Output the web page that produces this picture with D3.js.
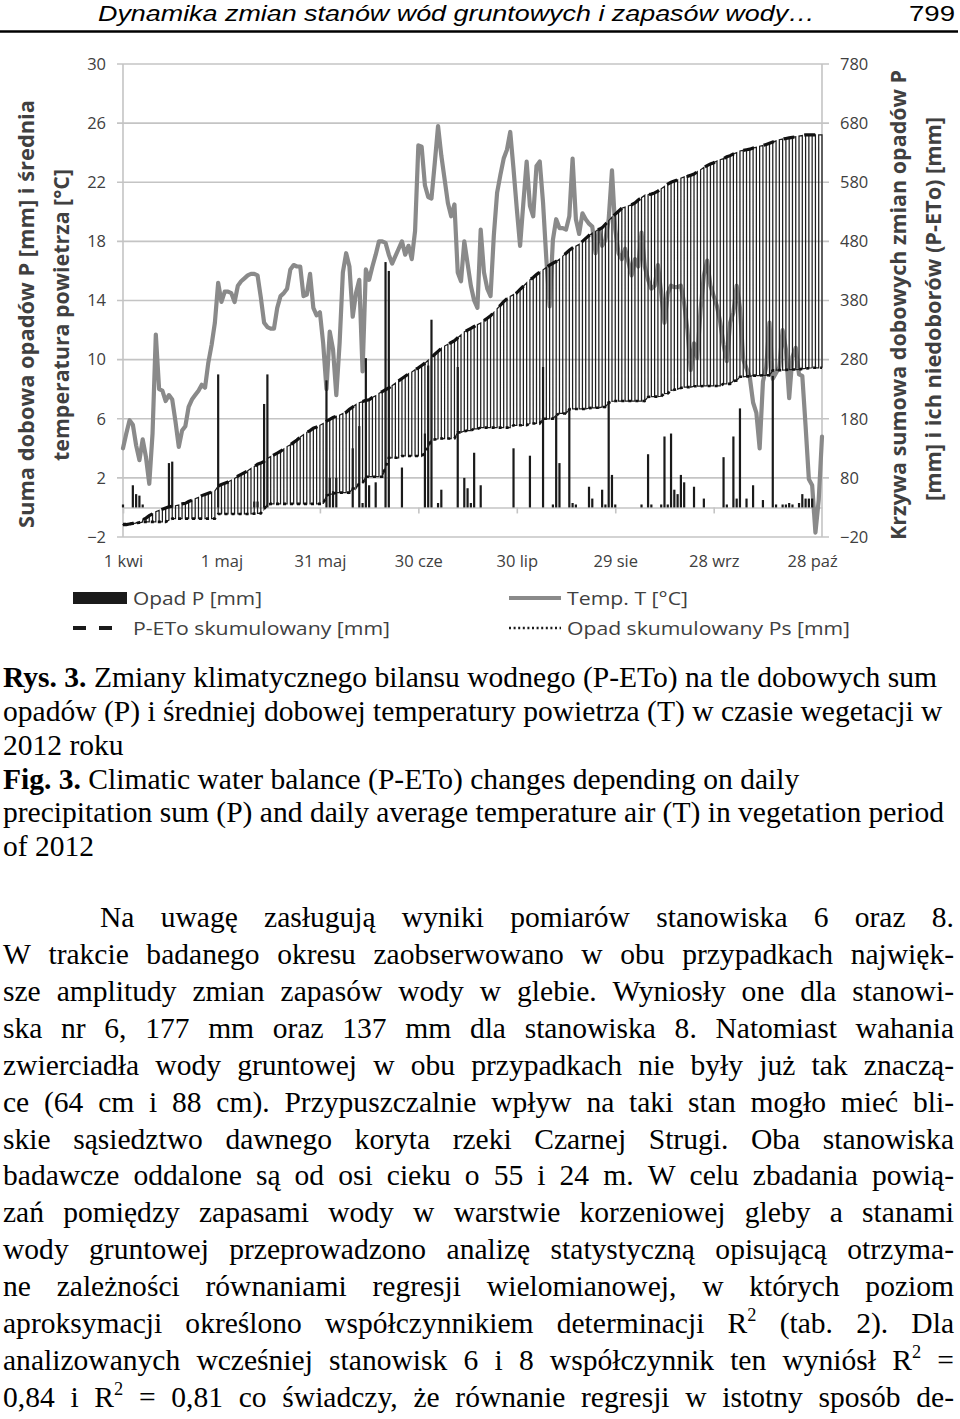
<!DOCTYPE html>
<html><head><meta charset="utf-8">
<script src="https://cdn.jsdelivr.net/npm/d3@7"></script>
<style>
body{margin:0;background:#fff;}
svg{display:block;}
</style></head><body>
<svg id="c" width="960" height="1419"></svg>
<script>
// ---------------- DATA ----------------
const startDate = "2012-04-01";
const tickDates = ["2012-04-01","2012-05-01","2012-05-31","2012-06-30","2012-07-30","2012-08-29","2012-09-28","2012-10-28"];
const tickLabels = ["1 kwi","1 maj","31 maj","30 cze","30 lip","29 sie","28 wrz","28 paź"];
const leftTicks = [-2,2,6,10,14,18,22,26,30];
const rightTicks = [-20,80,180,280,380,480,580,680,780];

// daily mean air temperature T [°C], 1 Apr - 31 Oct 2012
const temp = [
 4.0, 5.0, 5.9, 5.6, 4.2, 3.2, 4.6, 3.4, 1.6, 5.0,
 11.7, 8.0, 7.9, 7.2, 7.6, 7.3, 5.8, 4.1, 5.2, 5.5,
 6.8, 7.3, 7.6, 7.9, 8.3, 8.1, 9.8, 11.0, 12.5, 15.2,
 13.9, 14.6, 14.6, 14.5, 13.9, 15.0, 15.3, 15.5, 15.7, 15.8,
 15.8, 15.7, 14.2, 12.5, 12.2, 12.1, 12.1, 13.5, 14.3, 14.5,
 14.8, 16.1, 16.4, 16.3, 16.3, 14.3, 14.4, 15.8, 13.5, 13.0,
 13.2, 11.1, 8.0, 11.9, 10.7, 7.6, 11.1, 15.9, 17.2, 16.3,
 12.9, 14.5, 15.4, 9.2, 16.1, 15.4, 16.3, 17.1, 18.0, 18.0,
 17.9, 17.1, 16.5, 17.0, 17.5, 18.0, 17.1, 17.7, 16.8, 18.7,
 24.5, 24.4, 21.8, 21.0, 20.9, 23.3, 25.8, 23.8, 22.2, 20.6,
 19.7, 20.5, 15.9, 15.3, 18.0, 16.5, 15.0, 14.0, 13.5, 18.8,
 15.9, 14.8, 14.3, 18.4, 21.3, 22.5, 23.6, 24.2, 25.4, 22.9,
 20.2, 17.7, 20.6, 23.4, 20.4, 19.7, 23.1, 23.4, 20.6, 16.8,
 13.6, 18.1, 19.5, 18.9, 18.9, 18.8, 19.7, 23.6, 19.5, 18.5,
 19.9, 19.5, 19.2, 19.0, 17.2, 18.8, 17.7, 18.1, 19.5, 22.8,
 18.8, 17.2, 16.8, 17.5, 16.6, 15.7, 16.8, 16.3, 18.6, 16.3,
 15.4, 14.8, 15.0, 16.4, 14.5, 12.5, 14.5, 15.0, 14.9, 14.9,
 15.0, 13.8, 12.0, 9.3, 11.1, 10.1, 13.4, 15.7, 16.7, 15.0,
 14.3, 13.6, 12.5, 11.0, 9.9, 12.5, 13.2, 15.0, 13.5, 10.0,
 9.4, 8.8, 7.1, 6.4, 4.0, 8.5, 9.5, 12.5, 8.7, 9.1,
 9.5, 12.0, 10.7, 7.4, 10.2, 10.8, 9.0, 8.9, 5.5, 1.9,
 1.5, -1.7, 0.5, 4.8
];

// daily precipitation P [mm]
const precip = [
 0.2,0,0,1.5,0.9,0.8,0.2,0,0,0,
 0,0,0,0,3.0,3.1,0,0,0,0,
 0,0,0,0,0,0,0,0,0,9.0,
 0,0,0,0,0,0,0,0,0,0,
 0.4,0.4,0,7.0,9.0,0,0,0,0,0,
 0,0,0,0,0,0,0,0,0,0,
 0,0,8.6,2.0,1.1,2.0,0,0,0,0,
 4.0,0,5.5,0.3,10.1,1.5,0,1.7,0,0,
 16.6,16.0,0,0,0,2.7,0,0,0,0,
 0,0,5.0,9.6,12.7,0,0.3,1.2,0,0,
 0,0,9.5,0,2.0,1.3,0.3,3.7,0,1.5,
 0,0,0,0,0,0,0,0,0,4.0,
 0,0,0,0,3.5,0,0,0,9.5,0,
 0,0.2,6.2,3.0,0,0,6.6,0.3,0.2,0,
 0,0,1.4,0.6,0,0,1.2,0.2,7.2,2.2,
 0.2,0,0,0,0,0,0,0,0.2,0,
 3.6,0.2,0,0,0.2,4.8,0.2,5.0,1.2,0.9,
 2.2,1.7,0,0,1.4,0,0,0.6,0,0,
 0,0,0,3.4,0.2,0,4.8,0.6,6.7,0,
 0.6,0,1.5,0,0,0.5,0,0,8.9,0.2,
 0,0.2,0.2,0.3,0.2,0,0.3,0.9,0.6,0.6,
 0.6,0,0,0
];

// upper cumulative curve (P-ETo) [mm], right axis
const cumUpper = [
 1,1,2,3,4,6,9,12,16,19,
 23,25,27,29,31,32,33,34,36,37,
 40,42,45,47,50,52,54,56,58,66,
 69,71,73,76,79,83,86,89,92,96,
 99,103,105,108,113,116,119,122,125,129,
 133,136,140,144,149,153,157,160,164,166,
 169,172,176,179,182,184,186,189,191,196,
 200,204,207,209,211,212,216,219,223,226,
 229,232,236,240,244,248,252,256,259,263,
 266,270,274,279,284,289,294,299,303,306,
 309,312,317,322,327,330,333,336,339,342,
 346,350,354,360,366,372,378,383,387,390,
 393,399,404,410,415,419,424,428,432,436,
 440,443,446,450,455,460,465,469,472,475,
 480,485,490,494,497,500,503,509,515,521,
 526,531,536,538,540,542,545,550,554,558,
 559,560,562,565,569,573,577,580,582,584,
 587,589,590,592,594,598,601,605,608,611,
 613,616,618,620,623,625,628,630,633,634,
 635,636,638,639,641,642,644,646,648,650,
 652,653,654,655,656,657,658,659,660,660,
 660,660,660,660
];

// lower cumulative curve (Ps) [mm], right axis
const cumLower = [
 2,2,2,3,3.5,4,5.5,5.5,5.5,5.5,
 5.5,5.5,5.5,5.5,8.5,11,11,11,11,11,
 11,11,11,11,11,11,11,11,11,19,
 19,19,19,19,19,19,19,19,19,19,
 19.5,20,20,27,35,36,36,36,36,36,
 36,36,36,36,36,36,36,36,36,36,
 36,36,50,52,53,55,55,55,55,55,
 62,62,71,71,82,82,82,82,82,82,
 98,114,114,114,114,117,117,117,117,117,
 117,117,122,132,145,145,146,146.5,146.5,146.5,
 146.5,146.5,157,157,159,160,160,163,163,165,
 165,165,165,165,165,165,165,165,165,169,
 169,169,169,169,172,172,172,172,180,180,
 180,180,186,189,189,189,196,196.5,196.5,196.5,
 196.5,196.5,198,198.5,198.5,198.5,200,200,207,209.5,
 210,210,210,210,210,210,210,210,210,210,
 217,217.5,217.5,217.5,218,222.5,222.7,227.7,229,230,
 232,233.5,233.5,233.5,235,235,235,235.5,235.5,235.5,
 235.5,235.5,235.5,239,239,239,244,244.5,251,251,
 251.6,251.6,253,253,253,253.5,253.5,253.5,262,262.2,
 262.2,262.4,262.6,263,263.2,263.2,263.5,264.4,265,265.6,
 266.2,266.2,266.2,266.2
];

// page texts
const headerTitle = "Dynamika zmian stanów wód gruntowych i zapasów wody…";
const pageNumber = "799";
const leftTitle = ["Suma dobowa opadów P [mm] i średnia", "temperatura powietrza [°C]"];
const rightTitle = ["Krzywa sumowa dobowych zmian opadów P", "[mm] i ich niedoborów (P-ETo) [mm]"];
const legendLabels = ["Opad P [mm]", "P-ETo skumulowany [mm]", "Temp. T [°C]", "Opad skumulowany Ps [mm]"];
const captionLines = [
 ["Rys. 3.", " Zmiany klimatycznego bilansu wodnego (P-ETo) na tle dobowych sum"],
 ["", "opadów (P) i średniej dobowej temperatury powietrza (T) w czasie wegetacji w"],
 ["", "2012 roku"],
 ["Fig. 3.", " Climatic water balance (P-ETo) changes depending on daily"],
 ["", "precipitation sum (P) and daily average temperature air (T) in vegetation period"],
 ["", "of 2012"]
];
const bodyLines = [
 "Na uwagę zasługują wyniki pomiarów stanowiska 6 oraz 8.",
 "W trakcie badanego okresu zaobserwowano w obu przypadkach najwięk-",
 "sze amplitudy zmian zapasów wody w glebie. Wyniosły one dla stanowi-",
 "ska nr 6, 177 mm oraz 137 mm dla stanowiska 8. Natomiast wahania",
 "zwierciadła wody gruntowej w obu przypadkach nie były już tak znaczą-",
 "ce (64 cm i 88 cm). Przypuszczalnie wpływ na taki stan mogło mieć bli-",
 "skie sąsiedztwo dawnego koryta rzeki Czarnej Strugi. Oba stanowiska",
 "badawcze oddalone są od osi cieku o 55 i 24 m. W celu zbadania powią-",
 "zań pomiędzy zapasami wody w warstwie korzeniowej gleby a stanami",
 "wody gruntowej przeprowadzono analizę statystyczną opisującą otrzyma-",
 "ne zależności równaniami regresji wielomianowej, w których poziom",
 "aproksymacji określono współczynnikiem determinacji R^2 (tab. 2). Dla",
 "analizowanych wcześniej stanowisk 6 i 8 współczynnik ten wyniósł R^2 =",
 "0,84 i R^2 = 0,81 co świadczy, że równanie regresji w istotny sposób de-"
];

// ---------------- CHART ----------------
const svg = d3.select("#c");
const SANS = "'Open Sans', 'DejaVu Sans', sans-serif";
const SERIF = "'Liberation Serif', 'Times New Roman', serif";
const gridCol = "#c4c4c4";
const labCol = "#404040";

const parse = d3.utcParse("%Y-%m-%d");
const start = parse(startDate);
const dates = temp.map((_, i) => d3.utcDay.offset(start, i));
const x = d3.scaleUtc().domain([dates[0], dates[dates.length - 1]]).range([123, 822]);
const yL = d3.scaleLinear().domain([-2, 30]).range([537, 64]);
const yR = d3.scaleLinear().domain([-20, 780]).range([537, 64]);

// gridlines
svg.append("g").selectAll("line").data(leftTicks).join("line")
  .attr("x1", 117).attr("x2", 829)
  .attr("y1", d => yL(d)).attr("y2", d => yL(d))
  .attr("stroke", gridCol).attr("stroke-width", 1.6);

// vertical axis lines
svg.append("line").attr("x1", x.range()[0]).attr("x2", x.range()[0]).attr("y1", yL(30)).attr("y2", yL(-2))
  .attr("stroke", gridCol).attr("stroke-width", 1.6);
svg.append("line").attr("x1", x.range()[1]).attr("x2", x.range()[1]).attr("y1", yL(30)).attr("y2", yL(-2))
  .attr("stroke", gridCol).attr("stroke-width", 1.6);

// left tick labels
const gl = svg.append("g").attr("transform", `translate(${x.range()[0]},0)`)
  .call(d3.axisLeft(yL).tickValues(leftTicks).tickSize(0).tickPadding(17));
gl.select(".domain").remove();
gl.selectAll("text").attr("font-family", SANS).attr("font-size", 16.5).attr("fill", labCol);

// right tick labels
const gr = svg.append("g").attr("transform", `translate(${x.range()[1]},0)`)
  .call(d3.axisRight(yR).tickValues(rightTicks).tickSize(0).tickPadding(18));
gr.select(".domain").remove();
gr.selectAll("text").attr("font-family", SANS).attr("font-size", 16.5).attr("fill", labCol);

// zero line with date ticks
const gz = svg.append("g").attr("transform", `translate(0,${yL(0)})`)
  .call(d3.axisBottom(x).tickValues(tickDates.map(parse)).tickSize(6).tickSizeOuter(0).tickFormat(""));
gz.select(".domain").attr("stroke", gridCol).attr("stroke-width", 1.6);
gz.selectAll(".tick line").attr("stroke", gridCol).attr("stroke-width", 1.6);

// date labels at the bottom
const gb = svg.append("g").attr("transform", `translate(0,${yL(-2)})`)
  .call(d3.axisBottom(x).tickValues(tickDates.map(parse)).tickSize(0).tickFormat((d, i) => tickLabels[i]));
gb.select(".domain").remove();
gb.selectAll("text").attr("font-family", SANS).attr("font-size", 16.5).attr("fill", labCol)
  .attr("dy", null).attr("y", 30);

// temperature line
svg.append("path").datum(temp)
  .attr("d", d3.line().x((d, i) => x(dates[i])).y(d => yL(d)).curve(d3.curveLinear))
  .attr("fill", "none").attr("stroke", "#8a8a8a").attr("stroke-width", 4.2)
  .attr("stroke-linejoin", "round").attr("stroke-linecap", "round");

// precipitation bars
svg.append("g").selectAll("rect").data(precip.map((p, i) => ({p, i})).filter(d => d.p > 0)).join("rect")
  .attr("x", d => x(dates[d.i]) - 1.1).attr("width", 2.2)
  .attr("y", d => yL(d.p)).attr("height", d => yL(0) - yL(d.p))
  .attr("fill", "#1a1a1a");

// hatch between cumulative curves (square wave per day)
const pts = [];
cumUpper.forEach((u, i) => {
  const lo = [x(dates[i]), yR(cumLower[i])], up = [x(dates[i]), yR(u)];
  if (i % 2 === 0) { pts.push(lo, up); } else { pts.push(up, lo); }
});
svg.append("path").attr("d", d3.line()(pts))
  .attr("fill", "none").attr("stroke", "#1e1e1e").attr("stroke-width", 1.25);

// upper dashed curve
svg.append("path").datum(cumUpper)
  .attr("d", d3.line().x((d, i) => x(dates[i])).y(d => yR(d)))
  .attr("fill", "none").attr("stroke", "#111").attr("stroke-width", 3.2)
  .attr("stroke-dasharray", "11,10");

// lower dotted curve
svg.append("path").datum(cumLower)
  .attr("d", d3.line().x((d, i) => x(dates[i])).y(d => yR(d)))
  .attr("fill", "none").attr("stroke", "#111").attr("stroke-width", 2.6)
  .attr("stroke-dasharray", "3,4");

// axis titles
function vtitle(cx, cy, txt, len) {
  svg.append("text").attr("transform", `translate(${cx},${cy}) rotate(-90)`)
    .attr("text-anchor", "middle").attr("dominant-baseline", "central")
    .attr("font-family", SANS).attr("font-weight", "bold").attr("font-size", 20.5)
    .attr("fill", labCol).attr("textLength", len).attr("lengthAdjust", "spacingAndGlyphs")
    .text(txt);
}
vtitle(26, 314, leftTitle[0], 428);
vtitle(61, 315, leftTitle[1], 292);
vtitle(898, 305, rightTitle[0], 470);
vtitle(933, 309, rightTitle[1], 384);

// legend
svg.append("rect").attr("x", 73).attr("y", 592).attr("width", 54).attr("height", 12).attr("fill", "#1a1a1a");
svg.append("line").attr("x1", 73).attr("x2", 116).attr("y1", 628).attr("y2", 628)
  .attr("stroke", "#1a1a1a").attr("stroke-width", 4).attr("stroke-dasharray", "13,13");
svg.append("line").attr("x1", 509).attr("x2", 561).attr("y1", 598).attr("y2", 598)
  .attr("stroke", "#8a8a8a").attr("stroke-width", 4);
svg.append("line").attr("x1", 509).attr("x2", 561).attr("y1", 628).attr("y2", 628)
  .attr("stroke", "#1a1a1a").attr("stroke-width", 2.5).attr("stroke-dasharray", "2,2.6");
const legPos = [[133, 605, 129], [133, 635, 257], [567, 605, 121], [567, 635, 283]];
legendLabels.forEach((t, i) => {
  svg.append("text").attr("x", legPos[i][0]).attr("y", legPos[i][1])
    .attr("font-family", SANS).attr("font-size", 18.5).attr("fill", labCol)
    .attr("textLength", legPos[i][2]).attr("lengthAdjust", "spacingAndGlyphs").text(t);
});

// ---------------- PAGE TEXT ----------------
// header
svg.append("text").attr("x", 98).attr("y", 21).attr("font-family", "'Liberation Sans', Arial, sans-serif")
  .attr("font-style", "italic").attr("font-size", 21.5).attr("fill", "#000")
  .attr("textLength", 717).attr("lengthAdjust", "spacingAndGlyphs").text(headerTitle);
svg.append("text").attr("x", 955).attr("y", 21).attr("text-anchor", "end")
  .attr("font-family", "'Liberation Sans', Arial, sans-serif").attr("font-size", 21.5).attr("fill", "#000")
  .attr("textLength", 46).attr("lengthAdjust", "spacingAndGlyphs").text(pageNumber);
svg.append("line").attr("x1", 0).attr("x2", 958).attr("y1", 31.5).attr("y2", 31.5)
  .attr("stroke", "#000").attr("stroke-width", 2.4);

// font size calibration for serif text
const probe = svg.append("text").attr("font-family", SERIF).attr("font-size", 100).text(captionLines[1][1]);
const probeW = probe.node().getComputedTextLength();
probe.remove();
const FS = Math.min(32, 100 * 940 / probeW);

// caption
const capBase = [687, 721, 755, 789, 822, 856];
captionLines.forEach((ln, i) => {
  const t = svg.append("text").attr("x", 3).attr("y", capBase[i])
    .attr("font-family", SERIF).attr("font-size", FS).attr("fill", "#000");
  if (ln[0]) t.append("tspan").attr("font-weight", "bold").text(ln[0]);
  t.append("tspan").text(ln[1]);
});

// body (justified)
function rich(t, w) {
  const parts = w.split(/(\^\d)/).filter(s => s.length);
  let raised = false;
  parts.forEach(p => {
    if (p[0] === "^") {
      t.append("tspan").attr("font-size", FS * 0.62).attr("dy", -FS * 0.42).text(p.slice(1));
      raised = true;
    } else {
      const s = t.append("tspan").text(p);
      if (raised) { s.attr("dy", FS * 0.42); raised = false; }
    }
  });
}
const bodyG = svg.append("g").attr("font-family", SERIF).attr("fill", "#000");
bodyLines.forEach((line, li) => {
  const y = 927 + li * 36.92;
  const x0 = li === 0 ? 100 : 3, x1 = 954;
  const words = line.split(" ");
  const els = words.map(w => { const t = bodyG.append("text").attr("y", y).attr("font-size", FS); rich(t, w); return t; });
  const widths = els.map(t => t.node().getComputedTextLength());
  const gap = Math.max(3, (x1 - x0 - d3.sum(widths)) / (words.length - 1));
  let cx = x0;
  els.forEach((t, i) => { t.attr("x", cx); cx += widths[i] + gap; });
});
</script></body></html>
